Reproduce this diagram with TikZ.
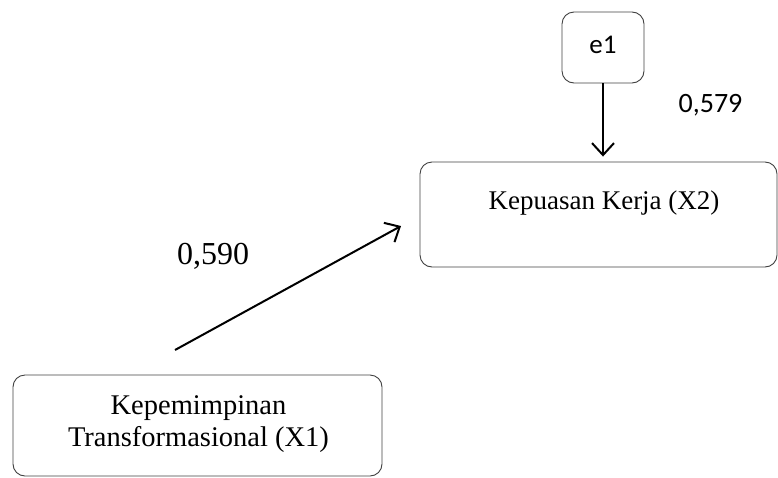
\documentclass[tikz,border=0pt]{standalone}
\usepackage{fontspec}
\setmainfont{Liberation Serif}
\newfontfamily\calfont{Carlito}
\usetikzlibrary{arrows.meta}
\begin{document}
\begin{tikzpicture}[x=1pt,y=-1pt,
  box/.style={draw=black!75, line width=0.9pt, rounded corners=12pt},
  conn/.style={line width=2pt, -{Straight Barb[length=12pt,width=22pt,line width=2pt]}},
  serif/.style={inner sep=0pt},
  cal/.style={font=\calfont\fontsize{27}{30}\selectfont, inner sep=0pt, anchor=base}]
\useasboundingbox (0,0) rectangle (778,477);
% boxes
\node[box, minimum width=82pt, minimum height=71pt] (e1) at (603,47.5) {};
\node[cal] (e1t) at (603,53) {e1};
\node[box, minimum width=357pt, minimum height=105pt] (k2) at (598.5,214.5) {};
\node[serif, anchor=base, font=\fontsize{27}{30}\selectfont] (k2t) at (604,209) {Kepuasan Kerja (X2)};
\node[box, minimum width=369pt, minimum height=101pt] (k1) at (197.5,425.5) {};
\node[serif, align=center, font=\fontsize{28.5}{32}\selectfont] (k1t) at (198.5,423.6) {Kepemimpinan\\Transformasional (X1)};
% connectors
\draw[conn, shorten >=5pt] (e1.south) -- (e1.south |- k2.north);
\coordinate (a1) at (175,350);
\coordinate (a2) at (401,226);
\draw[conn] (a1) -- (a2);
% labels
\node[cal, font=\calfont\fontsize{28}{30}\selectfont] (l1) at (710.5,112) {0,579};
\node[serif, anchor=base, font=\fontsize{32}{34}\selectfont] (l2) at (213,264) {0,590};
\end{tikzpicture}
\end{document}
